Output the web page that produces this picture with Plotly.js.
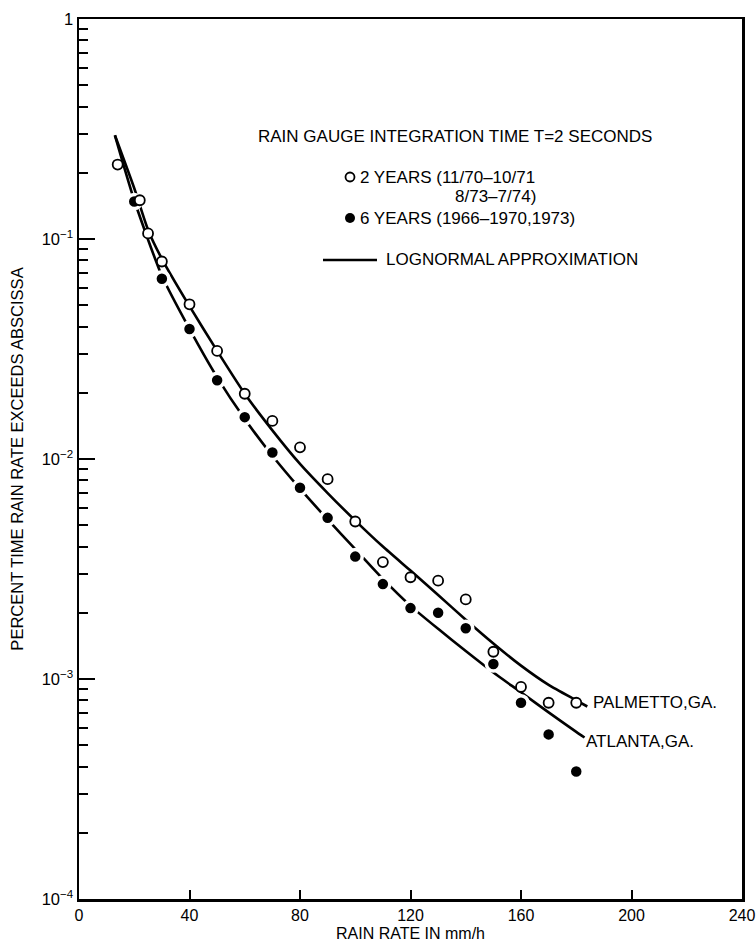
<!DOCTYPE html>
<html>
<head>
<meta charset="utf-8">
<script src="https://cdn.plot.ly/plotly-3.0.1.min.js"></script>
<style>
html,body{margin:0;padding:0;background:#fff;}
#chart{width:756px;height:942px;}
</style>
</head>
<body>
<div id="chart"></div>
<script>
// ---- data ----
// Palmetto, GA. : 2 years (open circles)
const palmettoX = [14, 22, 25, 30, 40, 50, 60, 70, 80, 90, 100, 110, 120, 130, 140, 150, 160, 170, 180];
const palmettoY = [0.218, 0.150, 0.106, 0.079, 0.0505, 0.031, 0.0198, 0.0149, 0.0113, 0.0081, 0.0052, 0.0034, 0.0029, 0.0028, 0.0023, 0.00133, 0.00092, 0.00078, 0.00078];
// Atlanta, GA. : 6 years (filled circles)
const atlantaX = [20, 30, 40, 50, 60, 70, 80, 90, 100, 110, 120, 130, 140, 150, 160, 170, 180];
const atlantaY = [0.148, 0.066, 0.039, 0.0228, 0.0155, 0.0107, 0.0074, 0.0054, 0.0036, 0.0027, 0.0021, 0.0020, 0.0017, 0.00117, 0.00078, 0.00056, 0.00038];
// Lognormal approximation curves
const palmettoFitX = [13, 20, 25, 30, 40, 50, 60, 70, 80, 90, 100, 110, 120, 130, 140, 150, 160, 170, 180, 184];
const palmettoFitY = [0.296, 0.170, 0.110, 0.0813, 0.0495, 0.0310, 0.0198, 0.0135, 0.0095, 0.0070, 0.00525, 0.0040, 0.00311, 0.00241, 0.00186, 0.00145, 0.00115, 0.00094, 0.0008, 0.00075];
const atlantaFitX = [13, 20, 30, 40, 50, 60, 70, 80, 90, 100, 110, 120, 130, 140, 150, 160, 170, 180, 183];
const atlantaFitY = [0.296, 0.150, 0.068, 0.039, 0.0235, 0.0152, 0.01035, 0.00733, 0.00531, 0.00389, 0.00285, 0.00215, 0.00169, 0.00134, 0.00107, 0.00087, 0.000705, 0.000575, 0.000542];
// axis ticks
const xTickVals = [0, 40, 80, 120, 160, 200, 240];
const xTickText = ['0', '40', '80', '120', '160', '200', '240'];
const yTickVals = [1e-4, 1e-3, 1e-2, 1e-1, 1];
const yTickText = ['10<sup>\u22124</sup>', '10<sup>\u22123</sup>', '10<sup>\u22122</sup>', '10<sup>\u22121</sup>', '1'];

// minor tick positions (2..9 in every decade)
const yMinor = [];
for (let e = -4; e < 0; e++) { for (let m = 2; m <= 9; m++) yMinor.push(m * Math.pow(10, e)); }

const FONT = 'Liberation Sans, Arial, Helvetica, sans-serif';

// plot-area geometry in pixels (for legend placement in paper coords)
const L = 79, R = 742, T = 19, B = 899;
const px = x => (x - L) / (R - L);
const py = y => (B - y) / (B - T);

const traces = [
  { x: palmettoFitX, y: palmettoFitY, mode: 'lines', line: { color: '#000', width: 2.6, shape: 'spline', smoothing: 0.6 }, name: 'Palmetto lognormal', hoverinfo: 'skip' },
  { x: atlantaFitX, y: atlantaFitY, mode: 'lines', line: { color: '#000', width: 2.6, shape: 'spline', smoothing: 0.6 }, name: 'Atlanta lognormal', hoverinfo: 'skip' },
  { x: atlantaX, y: atlantaY, mode: 'markers', marker: { symbol: 'circle', size: 14, color: '#000', line: { color: '#fff', width: 3.5 } }, name: '6 YEARS (1966–1970,1973)' },
  { x: palmettoX, y: palmettoY, mode: 'markers', marker: { symbol: 'circle', size: 10, color: '#fff', line: { color: '#000', width: 1.8 } }, name: '2 YEARS (11/70–10/71, 8/73–7/74)' }
];

const ann = (text, x, y, size) => ({ text: text, xref: 'paper', yref: 'paper', x: px(x), y: py(y), xanchor: 'left', yanchor: 'middle', showarrow: false, borderpad: 0, font: { family: FONT, size: size || 17, color: '#000' } });

const layout = {
  width: 756, height: 942,
  margin: { l: L, r: 756 - R, t: T, b: 942 - B },
  paper_bgcolor: '#fff', plot_bgcolor: '#fff',
  showlegend: false,
  font: { family: FONT, color: '#000', size: 16 },
  xaxis: {
    range: [0, 240], tickmode: 'array', tickvals: xTickVals, ticktext: xTickText,
    ticks: 'inside', ticklen: 9, tickwidth: 2, tickcolor: '#000',
    showline: true, linewidth: 2.5, linecolor: '#000', mirror: true,
    showgrid: false, zeroline: false,
    ticklabelstandoff: 0,
    tickfont: { family: FONT, size: 16 },
    title: { text: 'RAIN RATE IN mm/h', font: { family: FONT, size: 16 }, standoff: 5 }
  },
  yaxis: {
    type: 'log', range: [-4, 0], tickmode: 'array', tickvals: yTickVals, ticktext: yTickText,
    ticks: 'inside', ticklen: 16, tickwidth: 2, tickcolor: '#000',
    minor: { tickmode: 'array', tickvals: yMinor, ticks: 'inside', ticklen: 9, tickwidth: 2, tickcolor: '#000', showgrid: false },
    showline: true, linewidth: 2.5, linecolor: '#000', mirror: true,
    showgrid: false, zeroline: false,
    tickfont: { family: FONT, size: 16.5 },
    title: { text: 'PERCENT TIME RAIN RATE EXCEEDS ABSCISSA', font: { family: FONT, size: 16.5 }, standoff: 14 }
  },
  annotations: [
    ann('RAIN GAUGE INTEGRATION TIME T=2 SECONDS', 257, 136),
    ann('2 YEARS (11/70\u201310/71', 359, 177),
    ann('8/73\u20137/74)', 454, 196),
    ann('6 YEARS (1966\u20131970,1973)', 359, 218),
    ann('LOGNORMAL APPROXIMATION', 385, 260),
    ann('PALMETTO,GA.', 592, 702),
    ann('ATLANTA,GA.', 585, 741)
  ],
  shapes: [
    { type: 'circle', xref: 'paper', yref: 'paper', x0: px(345.5), x1: px(354.5), y0: py(181.5), y1: py(172.5), line: { color: '#000', width: 1.8 }, fillcolor: '#fff' },
    { type: 'circle', xref: 'paper', yref: 'paper', x0: px(345), x1: px(355), y0: py(223), y1: py(213), line: { color: '#000', width: 0 }, fillcolor: '#000' },
    { type: 'line', xref: 'paper', yref: 'paper', x0: px(323), x1: px(377), y0: py(260), y1: py(260), line: { color: '#000', width: 2.6 } }
  ]
};

Plotly.newPlot('chart', traces, layout, { displayModeBar: false, staticPlot: true });
</script>
</body>
</html>
